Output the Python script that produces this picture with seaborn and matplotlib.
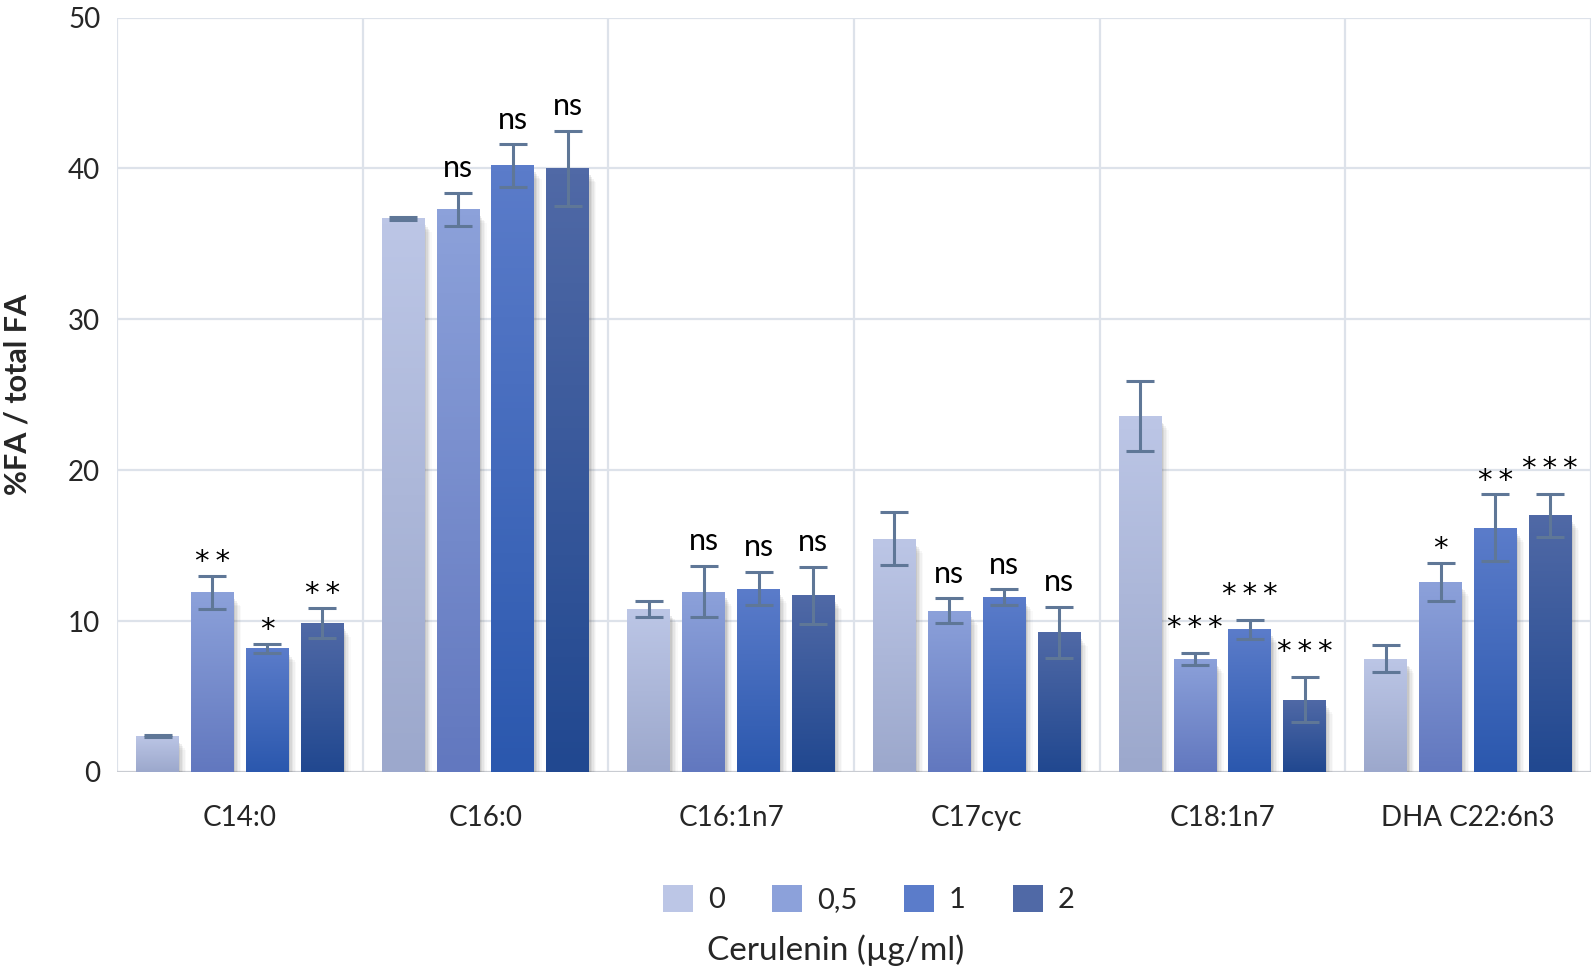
import numpy as np
import pandas as pd
import matplotlib
matplotlib.use("Agg")
import matplotlib.pyplot as plt
import seaborn as sns
from matplotlib.patches import Patch, Rectangle
from matplotlib.colors import LinearSegmentedColormap

# ---------------- data ----------------
categories = ["C14:0", "C16:0", "C16:1n7", "C17cyc", "C18:1n7", "DHA C22:6n3"]
doses = ["0", "0,5", "1", "2"]
vals_0 = [2.4, 36.7, 10.8, 15.45, 23.6, 7.5]
vals_05 = [11.9, 37.3, 11.95, 10.7, 7.5, 12.6]
vals_1 = [8.2, 40.2, 12.15, 11.6, 9.45, 16.2]
vals_2 = [9.9, 40.0, 11.7, 9.25, 4.8, 17.0]
err_0 = [0.05, 0.1, 0.5, 1.75, 2.3, 0.9]
err_05 = [1.1, 1.1, 1.7, 0.8, 0.4, 1.25]
err_1 = [0.3, 1.4, 1.1, 0.5, 0.65, 2.2]
err_2 = [1.0, 2.5, 1.9, 1.7, 1.5, 1.4]
sig_0 = ["", "", "", "", "", ""]
sig_05 = ["**", "ns", "ns", "ns", "***", "*"]
sig_1 = ["*", "ns", "ns", "ns", "***", "**"]
sig_2 = ["**", "ns", "ns", "ns", "***", "***"]
yticks = [0, 10, 20, 30, 40, 50]

all_vals = [vals_0, vals_05, vals_1, vals_2]
all_errs = [err_0, err_05, err_1, err_2]
all_sigs = [sig_0, sig_05, sig_1, sig_2]

rows = []
for d, v in zip(doses, all_vals):
    for c, x in zip(categories, v):
        rows.append({"fa": c, "dose": d, "value": x})
df = pd.DataFrame(rows)

# gradient colours (top, bottom)
grad = {
    "0": ("#bcc6e6", "#9ca8cc"),
    "0,5": ("#8ca1da", "#6278bf"),
    "1": ("#5b7cca", "#2b58ae"),
    "2": ("#5069a6", "#214890"),
}
palette = {d: grad[d][0] for d in doses}

# ---------------- figure ----------------
sns.set_theme(style="white")
plt.rcParams["font.family"] = ["Lato", "DejaVu Sans"]

fig = plt.figure(figsize=(15.94, 9.74), dpi=100)
ax = fig.add_axes([0.0734, 0.2074, 0.9246, 0.7746])

sns.barplot(data=df, x="fa", y="value", hue="dose", order=categories,
            hue_order=doses, palette=palette, width=0.893, gap=0.22,
            errorbar=None, legend=False, ax=ax, zorder=3)

ax.set_xlim(-0.5, len(categories) - 0.5)
ax.set_ylim(0, 50)
ax.set_yticks(yticks)
ax.set_yticklabels([str(t) for t in yticks], fontsize=20)
ax.tick_params(axis="y", length=0, pad=12)
ax.tick_params(axis="x", length=0, pad=24, labelsize=20)
ax.set_xlabel("")
ax.set_ylabel("%FA / total FA", fontsize=22, fontweight="bold", labelpad=26)
for s in ax.spines.values():
    s.set_visible(False)

gridc = "#dde2ea"
for y in yticks[1:]:
    ax.axhline(y, color=gridc, lw=1.6, zorder=0)
for x in np.arange(-0.5, len(categories), 1.0):
    ax.axvline(x, color=gridc, lw=1.6, zorder=0)
ax.axhline(0, color="#c9ccd2", lw=1.6, zorder=1)

# bars sorted by position -> category-major, dose-minor
patches = sorted([p for p in ax.patches if isinstance(p, Rectangle)],
                 key=lambda p: p.get_x())
k = 0
for ci, c in enumerate(categories):
    for di, d in enumerate(doses):
        p = patches[k]
        k += 1
        x0, w, h = p.get_x(), p.get_width(), p.get_height()
        # soft shadow
        for j, a in enumerate([0.12, 0.09, 0.07, 0.05, 0.03]):
            off = 0.006 + j * 0.006
            sh = Rectangle((x0 + off, 0), w, max(h - 0.45 - j * 0.12, 0),
                           facecolor="#555555", alpha=a, lw=0, zorder=2)
            ax.add_patch(sh)
        # gradient fill
        cmap = LinearSegmentedColormap.from_list("g", [grad[d][1], grad[d][0]])
        img = ax.imshow(np.linspace(0, 1, 100).reshape(-1, 1), cmap=cmap,
                        extent=[x0, x0 + w, 0, h], origin="lower",
                        aspect="auto", zorder=3.5)
        img.set_clip_path(p)
        p.set_facecolor("none")
        p.set_edgecolor("none")
        xc = x0 + w / 2
        e = all_errs[di][ci]
        ax.errorbar(xc, h, yerr=e, fmt="none", ecolor="#5f7797",
                    elinewidth=2.2, capsize=10, capthick=2.2, zorder=5)
        s = all_sigs[di][ci]
        if s == "ns":
            ax.text(xc, h + e + 0.7, s, ha="center", va="bottom",
                    fontsize=22, color="black", zorder=6)
        elif s:
            off = 1.65 if len(s) == 3 else 0.9
            ax.text(xc, h + e + off, "\u2009".join(s), ha="center",
                    va="center", fontsize=21, color="black", zorder=6,
                    family=["DejaVu Sans"])

ax.set_aspect("auto")

# legend
handles = [Patch(facecolor=grad[d][0], edgecolor="none") for d in doses]
fig.legend(handles, doses, loc="center", bbox_to_anchor=(0.545, 0.077),
           ncol=4, frameon=False, fontsize=21, handlelength=1.05,
           handleheight=1.05, handletextpad=0.5, columnspacing=1.6)
fig.text(0.524, 0.024, "Cerulenin (µg/ml)", ha="center", va="center",
         fontsize=24)

fig.savefig("out.png", dpi=100)
